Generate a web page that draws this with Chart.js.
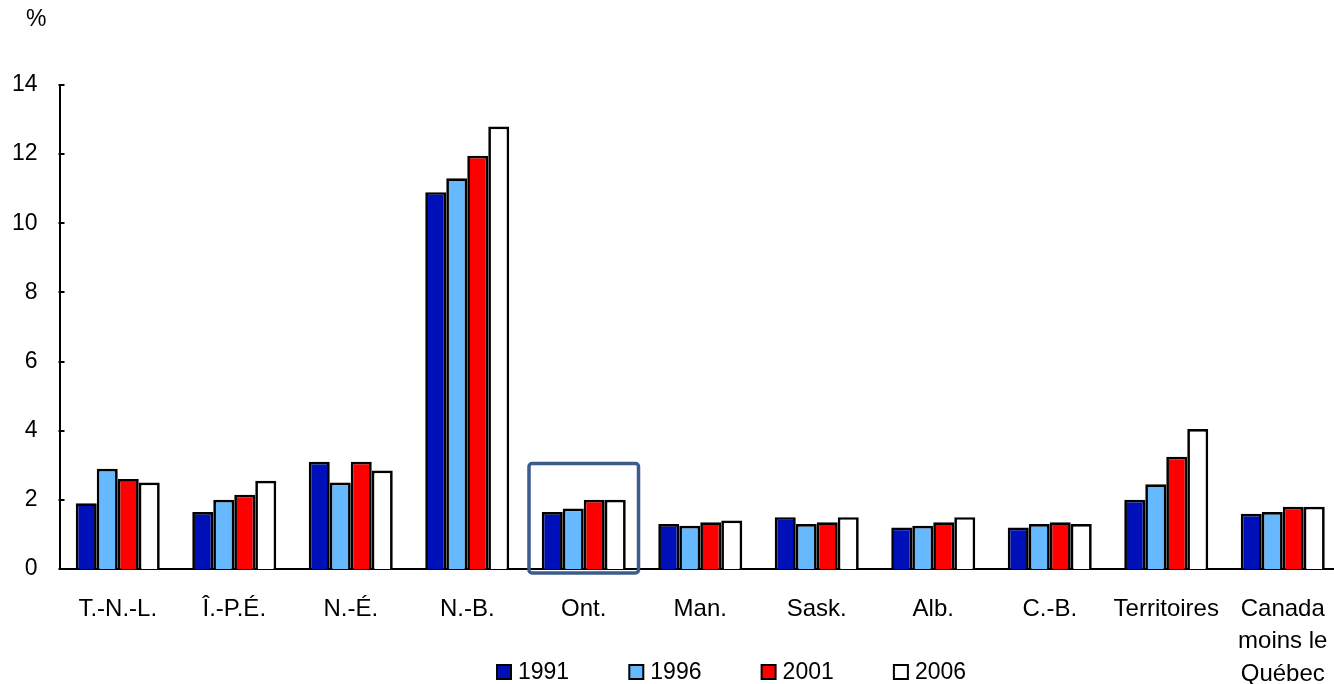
<!DOCTYPE html>
<html>
<head>
<meta charset="utf-8">
<script src="https://cdn.jsdelivr.net/npm/chart.js@4.4.0/dist/chart.umd.min.js"></script>
<style>
  html, body { margin: 0; padding: 0; background: #ffffff; overflow: hidden; }
  #wrap { position: relative; width: 1341px; height: 684px; }
</style>
</head>
<body>
<div id="wrap"><canvas id="c"></canvas></div>
<script>
const categories = ['T.-N.-L.', 'Î.-P.É.', 'N.-É.', 'N.-B.', 'Ont.', 'Man.', 'Sask.', 'Alb.', 'C.-B.', 'Territoires', ['Canada', 'moins le', 'Québec']];
const years = ['1991', '1996', '2001', '2006'];
const v1991 = [1.9, 1.65, 3.1, 10.9, 1.65, 1.3, 1.5, 1.2, 1.2, 2.0, 1.6];
const v1996 = [2.9, 2.0, 2.5, 11.3, 1.75, 1.25, 1.3, 1.25, 1.3, 2.45, 1.65];
const v2001 = [2.6, 2.15, 3.1, 11.95, 2.0, 1.35, 1.35, 1.35, 1.35, 3.25, 1.8];
const v2006 = [2.5, 2.55, 2.85, 12.8, 2.0, 1.4, 1.5, 1.5, 1.3, 4.05, 1.8];
const yMin = 0, yMax = 14, yStep = 2;
const highlightIndex = 4;      // Ont.
const highlightTop = 3.05;     // value level of the highlight frame top

const colors = ['#0010b8', '#66b8ff', '#ff0000', '#ffffff'];
const seriesValues = [v1991, v1996, v2001, v2006];

const FONT = "'Liberation Sans', Arial, sans-serif";

const extras = {
  id: 'extras',
  afterDatasetsDraw(chart) {
    const ctx = chart.ctx;
    const x = chart.scales.x, y = chart.scales.y;
    const area = chart.chartArea;
    // inward y ticks
    ctx.save();
    ctx.strokeStyle = '#000';
    ctx.lineWidth = 2;
    y.ticks.forEach(t => {
      const py = Math.round(y.getPixelForValue(t.value));
      ctx.beginPath();
      ctx.moveTo(area.left - 1, py);
      ctx.lineTo(area.left + 5, py);
      ctx.stroke();
    });
    ctx.restore();
    // highlight frame around Ontario
    const cw = (area.right - area.left) / categories.length;
    const cx = x.getPixelForValue(highlightIndex);
    const left = cx - cw * 0.47, right = cx + cw * 0.47;
    const top = y.getPixelForValue(highlightTop);
    const bottom = y.getPixelForValue(yMin) + 4;
    ctx.save();
    ctx.strokeStyle = '#3c5c8c';
    ctx.lineWidth = 3.5;
    ctx.beginPath();
    if (ctx.roundRect) ctx.roundRect(left, top, right - left, bottom - top, 3);
    else ctx.rect(left, top, right - left, bottom - top);
    ctx.stroke();
    ctx.restore();
  },
  afterDraw(chart) {
    const ctx = chart.ctx;
    ctx.save();
    // unit label
    ctx.fillStyle = '#000';
    ctx.font = '23px ' + FONT;
    ctx.textAlign = 'left';
    ctx.textBaseline = 'middle';
    ctx.fillText('%', 26, 20);
    // legend
    ctx.font = '23px ' + FONT;
    const itemGap = 132.3;
    const startX = 497;
    const ly = 672;
    years.forEach((yr, i) => {
      const bx = startX + i * itemGap;
      ctx.fillStyle = colors[i];
      ctx.fillRect(bx, ly - 7, 14, 14);
      ctx.strokeStyle = '#000';
      ctx.lineWidth = 2;
      ctx.strokeRect(bx, ly - 7, 14, 14);
      ctx.fillStyle = '#000';
      ctx.fillText(yr, bx + 21, ly + 1);
    });
    ctx.restore();
  }
};

new Chart(document.getElementById('c'), {
  type: 'bar',
  data: {
    labels: categories,
    datasets: years.map((yr, i) => ({
      label: yr,
      data: seriesValues[i],
      backgroundColor: colors[i],
      borderColor: '#000000',
      borderWidth: 2.7,
      borderSkipped: 'bottom',
      barPercentage: 1.0,
      categoryPercentage: 0.721
    }))
  },
  options: {
    responsive: true,
    maintainAspectRatio: false,
    animation: false,
    devicePixelRatio: 1,
    layout: { padding: { top: 85, left: 0, right: 0, bottom: 0 } },
    plugins: {
      legend: { display: false },
      tooltip: { enabled: false },
      title: { display: false }
    },
    scales: {
      x: {
        grid: { display: false, drawTicks: false },
        border: { display: true, color: '#000', width: 2 },
        ticks: {
          color: '#000',
          font: { family: FONT, size: 24, lineHeight: 1.35 },
          padding: 24,
          maxRotation: 0,
          autoSkip: false
        },
        afterFit(scale) {
          scale.height = 115;
          scale.paddingLeft = 0;
          scale.paddingRight = 0;
        }
      },
      y: {
        min: yMin,
        max: yMax,
        grid: { display: false, drawTicks: false },
        border: { display: true, color: '#000', width: 2 },
        ticks: {
          stepSize: yStep,
          color: '#000',
          font: { family: FONT, size: 23 },
          padding: 22
        },
        afterFit(scale) { scale.width = 59.5; }
      }
    }
  },
  plugins: [extras]
});
</script>
</body>
</html>
